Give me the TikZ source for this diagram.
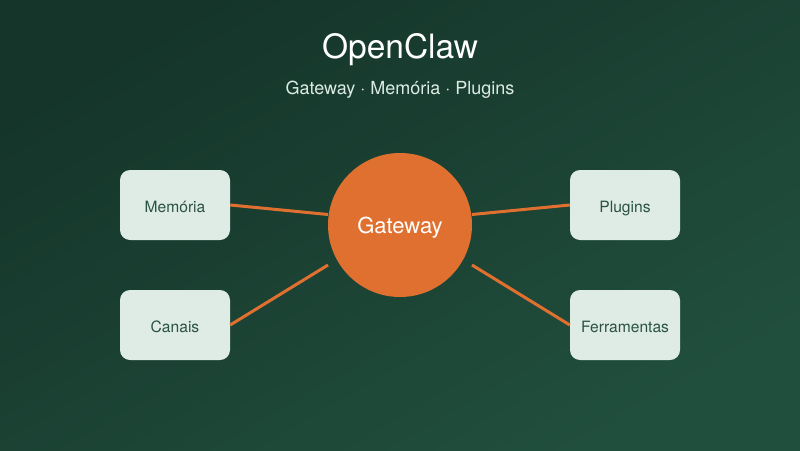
\documentclass[tikz,border=0pt]{standalone}
\usepackage{fontspec}
\setmainfont{TeX Gyre Heros}
\usetikzlibrary{calc}
\definecolor{bgA}{HTML}{15352A}
\definecolor{bgB}{HTML}{214F3D}
\definecolor{orng}{HTML}{E07030}
\definecolor{boxfill}{HTML}{DFECE6}
\definecolor{boxtext}{HTML}{2A5242}
\definecolor{subtext}{HTML}{DCEBE4}
\tikzset{
  sidebox/.style={draw=none, fill=boxfill, rounded corners=10pt, minimum width=110pt, minimum height=70pt, inner sep=0pt},
  boxlabel/.style={anchor=base, text=boxtext, font=\fontsize{15.6}{18}\selectfont},
  hub/.style={circle, fill=orng, minimum size=144pt, inner sep=0pt},
  link/.style={draw=orng, line width=3pt}
}
\begin{document}
\begin{tikzpicture}[x=1pt,y=-1pt]
\useasboundingbox (0,0) rectangle (800,450);
\shade[shading=axis, top color=bgA, bottom color=bgB, shading angle=30] (0,0) rectangle (800,450);
\node[anchor=base, text=white, font=\fontsize{33.5}{38}\selectfont] (title) at (400,58) {OpenClaw};
\node[anchor=base, text=subtext, font=\fontsize{18}{22}\selectfont] (sub) at (400,94) {Gateway · Memória · Plugins};
\node[hub] (gw) at (400,225) {};
\node[anchor=base, text=white, font=\fontsize{22}{26}\selectfont] (gwt) at (400,233.5) {Gateway};
\node[sidebox] (mem) at (175,205) {};
\node[sidebox] (can) at (175,325) {};
\node[sidebox] (plu) at (625,205) {};
\node[sidebox] (fer) at (625,325) {};
\node[boxlabel] (meml) at (175,212.3) {Memória};
\node[boxlabel] (canl) at (175,332.3) {Canais};
\node[boxlabel] (plul) at (625,212.3) {Plugins};
\node[boxlabel] (ferl) at (625,332.3) {Ferramentas};
\coordinate (ul) at ($(gw.center)+(-72,-10.5)$);
\coordinate (ll) at ($(gw.center)+(-72,40)$);
\coordinate (ur) at ($(gw.center)+(72,-10.5)$);
\coordinate (lr) at ($(gw.center)+(72,40)$);
\draw[link] (mem.east) -- (ul);
\draw[link] (can.east) -- (ll);
\draw[link] (plu.west) -- (ur);
\draw[link] (fer.west) -- (lr);
\end{tikzpicture}
\end{document}
